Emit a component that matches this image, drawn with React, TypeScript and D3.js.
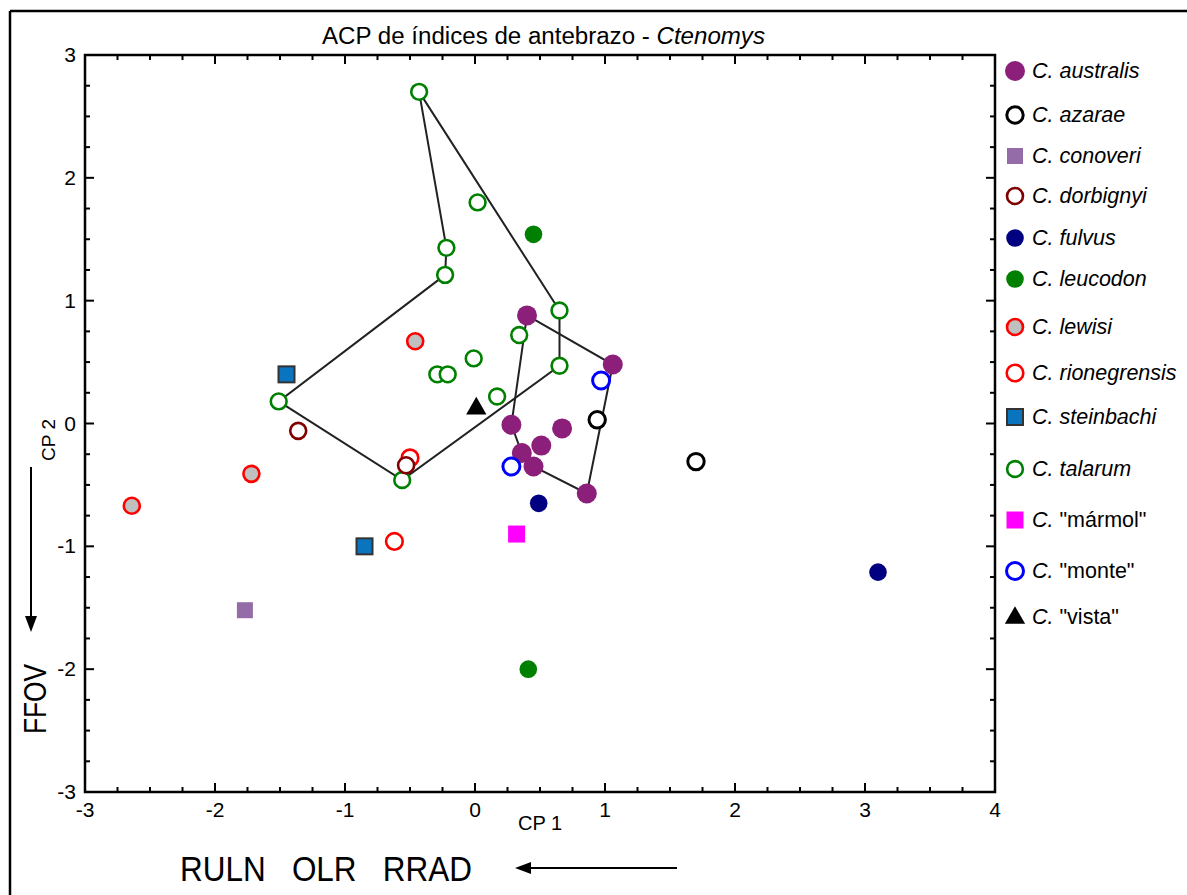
import React from "react";
import * as d3 from "d3";

type Pt = [number, number];

// Species data (CP1, CP2)
const australis: Pt[] = [[0.40, 0.88], [1.06, 0.48], [0.86, -0.57], [0.45, -0.35], [0.36, -0.24], [0.28, -0.01], [0.51, -0.18], [0.67, -0.04]];
const australisHull = [0, 1, 2, 3, 4, 5];
const azarae: Pt[] = [[0.94, 0.03], [1.70, -0.31]];
const conoveri: Pt[] = [[-1.77, -1.52]];
const dorbignyi: Pt[] = [[-1.36, -0.06], [-0.53, -0.34]];
const fulvus: Pt[] = [[0.49, -0.65], [3.10, -1.21]];
const leucodon: Pt[] = [[0.45, 1.54], [0.41, -2.0]];
const lewisi: Pt[] = [[-0.46, 0.67], [-1.72, -0.41], [-2.64, -0.67]];
const rionegrensis: Pt[] = [[-0.50, -0.28], [-0.62, -0.96]];
const steinbachi: Pt[] = [[-1.45, 0.40], [-0.85, -1.0]];
const talarum: Pt[] = [[-0.43, 2.70], [0.02, 1.80], [-0.22, 1.43], [-0.23, 1.21], [0.65, 0.92], [0.34, 0.72], [-0.01, 0.53], [-0.29, 0.40], [-0.21, 0.40], [0.17, 0.22], [0.65, 0.47], [-1.51, 0.18], [-0.56, -0.46]];
const talarumHull = [0, 2, 3, 11, 12, 10, 4];
const marmol: Pt[] = [[0.32, -0.90]];
const monte: Pt[] = [[0.97, 0.35], [0.28, -0.35]];
const vista: Pt[] = [[0.01, 0.13]];

const xTicks = [-3, -2, -1, 0, 1, 2, 3, 4];
const yTicks = [-3, -2, -1, 0, 1, 2, 3];

type Marker = { shape: "circle" | "square" | "triangle"; r: number; fill: string; stroke: string; sw: number };
type Species = { name: string; quoted: boolean; data: Pt[]; m: Marker; ly: number };

const species: Species[] = [
  { name: "australis", quoted: false, data: australis, m: { shape: "circle", r: 10, fill: "#8c1f79", stroke: "none", sw: 0 }, ly: 71 },
  { name: "azarae", quoted: false, data: azarae, m: { shape: "circle", r: 8.2, fill: "#ffffff", stroke: "#000000", sw: 3 }, ly: 115 },
  { name: "conoveri", quoted: false, data: conoveri, m: { shape: "square", r: 8, fill: "#936ca8", stroke: "none", sw: 0 }, ly: 156 },
  { name: "dorbignyi", quoted: false, data: dorbignyi, m: { shape: "circle", r: 8, fill: "#ffffff", stroke: "#800000", sw: 2.6 }, ly: 196 },
  { name: "fulvus", quoted: false, data: fulvus, m: { shape: "circle", r: 8.8, fill: "#000080", stroke: "none", sw: 0 }, ly: 238 },
  { name: "leucodon", quoted: false, data: leucodon, m: { shape: "circle", r: 8.8, fill: "#008000", stroke: "none", sw: 0 }, ly: 279 },
  { name: "lewisi", quoted: false, data: lewisi, m: { shape: "circle", r: 8, fill: "#c0c0c0", stroke: "#ff0000", sw: 2.6 }, ly: 327 },
  { name: "rionegrensis", quoted: false, data: rionegrensis, m: { shape: "circle", r: 8.3, fill: "#ffffff", stroke: "#ff0000", sw: 2.6 }, ly: 373 },
  { name: "steinbachi", quoted: false, data: steinbachi, m: { shape: "square", r: 8, fill: "#0a74bf", stroke: "#333333", sw: 2 }, ly: 417 },
  { name: "talarum", quoted: false, data: talarum, m: { shape: "circle", r: 7.9, fill: "#ffffff", stroke: "#008000", sw: 2.6 }, ly: 469 },
  { name: "\"mármol\"", quoted: true, data: marmol, m: { shape: "square", r: 8.5, fill: "#ff00ff", stroke: "none", sw: 0 }, ly: 520 },
  { name: "\"monte\"", quoted: true, data: monte, m: { shape: "circle", r: 8.5, fill: "#ffffff", stroke: "#0000ff", sw: 3 }, ly: 571 },
  { name: "\"vista\"", quoted: true, data: vista, m: { shape: "triangle", r: 9, fill: "#000000", stroke: "none", sw: 0 }, ly: 617 },
];

// drawing order of the point layers
const drawOrder = ["talarum", "australis", "leucodon", "lewisi", "rionegrensis", "dorbignyi", "azarae", "conoveri", "fulvus", "steinbachi", "\"mármol\"", "\"monte\"", "\"vista\""];

const FONT = "'Liberation Sans', Arial, sans-serif";

function MarkerShape({ m, cx, cy }: { m: Marker; cx: number; cy: number }) {
  if (m.shape === "circle") {
    return <circle cx={cx} cy={cy} r={m.r} fill={m.fill} stroke={m.stroke} strokeWidth={m.sw} />;
  }
  if (m.shape === "square") {
    return <rect x={cx - m.r} y={cy - m.r} width={m.r * 2} height={m.r * 2} fill={m.fill} stroke={m.stroke} strokeWidth={m.sw} />;
  }
  const sym = d3.symbol().type(d3.symbolTriangle).size(m.r * m.r * 2.2)();
  return <path d={sym || ""} transform={`translate(${cx},${cy + 1})`} fill={m.fill} />;
}

export default function App() {
  const x = d3.scaleLinear().domain([-3, 4]).range([85, 995]);
  const y = d3.scaleLinear().domain([-3, 3]).range([792, 55]);
  const [x0, x1] = x.range();
  const [y0, y1] = [y(3), y(-3)];

  const xMinor = d3.range(-3, 4.001, 0.25).filter((v) => Math.abs(v - Math.round(v)) > 1e-6);
  const yMinor = d3.range(-3, 3.001, 0.25).filter((v) => Math.abs(v - Math.round(v)) > 1e-6);
  const maj = 9;
  const min = 5;

  const line = d3.line<Pt>().x((d) => x(d[0])).y((d) => y(d[1])).curve(d3.curveLinearClosed);
  const talHull = talarumHull.map((i) => talarum[i]);
  const ausHull = australisHull.map((i) => australis[i]);

  const ordered = drawOrder.map((n) => species.find((s) => s.name === n)!) as Species[];

  return (
    <svg width={1187} height={895} style={{ position: "absolute", left: 0, top: 0, background: "#fff" }} fontFamily={FONT}>
      <rect x={0} y={0} width={1187} height={895} fill="#fff" />
      {/* outer frame */}
      <line x1={10} y1={11} x2={1187} y2={11} stroke="#000" strokeWidth={2.5} />
      <line x1={10} y1={11} x2={10} y2={895} stroke="#000" strokeWidth={2.5} />

      {/* title */}
      <text x={322} y={44} fontSize={23} fill="#000" textLength={443} lengthAdjust="spacingAndGlyphs">
        ACP de índices de antebrazo - <tspan fontStyle="italic">Ctenomys</tspan>
      </text>

      {/* hulls */}
      <path d={line(talHull) || ""} fill="none" stroke="#222" strokeWidth={2} />
      <path d={line(ausHull) || ""} fill="none" stroke="#222" strokeWidth={2} />

      {/* points */}
      {ordered.map((s) => (
        <g key={s.name}>
          {s.data.map((d, i) => (
            <MarkerShape key={i} m={s.m} cx={x(d[0])} cy={y(d[1])} />
          ))}
        </g>
      ))}

      {/* plot frame */}
      <rect x={x0} y={y0} width={x1 - x0} height={y1 - y0} fill="none" stroke="#000" strokeWidth={2.5} />
      {/* ticks */}
      <g stroke="#000" strokeWidth={2}>
        {xTicks.map((v) => (
          <g key={"xt" + v}>
            <line x1={x(v)} x2={x(v)} y1={y1} y2={y1 - maj} />
            <line x1={x(v)} x2={x(v)} y1={y0} y2={y0 + maj} />
          </g>
        ))}
        {xMinor.map((v) => (
          <g key={"xm" + v}>
            <line x1={x(v)} x2={x(v)} y1={y1} y2={y1 - min} />
            <line x1={x(v)} x2={x(v)} y1={y0} y2={y0 + min} />
          </g>
        ))}
        {yTicks.map((v) => (
          <g key={"yt" + v}>
            <line x1={x0} x2={x0 + maj} y1={y(v)} y2={y(v)} />
            <line x1={x1} x2={x1 - maj} y1={y(v)} y2={y(v)} />
          </g>
        ))}
        {yMinor.map((v) => (
          <g key={"ym" + v}>
            <line x1={x0} x2={x0 + min} y1={y(v)} y2={y(v)} />
            <line x1={x1} x2={x1 - min} y1={y(v)} y2={y(v)} />
          </g>
        ))}
      </g>

      {/* tick labels */}
      {xTicks.map((v) => (
        <text key={"xl" + v} x={x(v)} y={y1 + 25} textAnchor="middle" fontSize={21}>
          {v}
        </text>
      ))}
      {yTicks.map((v) => (
        <text key={"yl" + v} x={x0 - 9} y={y(v) + 7} textAnchor="end" fontSize={21}>
          {v}
        </text>
      ))}

      {/* axis titles */}
      <text x={(x0 + x1) / 2} y={y1 + 38} textAnchor="middle" fontSize={20}>
        CP 1
      </text>
      <text transform={`translate(55,440) rotate(-90)`} textAnchor="middle" fontSize={19}>
        CP 2
      </text>

      {/* FFOV arrow */}
      <line x1={31} y1={467} x2={31} y2={618} stroke="#000" strokeWidth={2} />
      <path d="M25,616 L37,616 L31,632 Z" fill="#000" />
      <text transform={`translate(46,699) rotate(-90)`} textAnchor="middle" fontSize={32} textLength={70} lengthAdjust="spacingAndGlyphs">
        FFOV
      </text>

      {/* bottom arrow */}
      <text x={180} y={881} fontSize={35} textLength={292} lengthAdjust="spacingAndGlyphs">
        RULN{"\u00a0\u00a0\u00a0"}OLR{"\u00a0\u00a0\u00a0"}RRAD
      </text>
      <line x1={677} y1={868} x2={528} y2={868} stroke="#000" strokeWidth={2} />
      <path d="M515,868 L531,862 L531,874 Z" fill="#000" />

      {/* legend */}
      {species.map((s) => (
        <g key={"lg" + s.name}>
          <MarkerShape m={s.m} cx={1015} cy={s.ly} />
          <text x={1032} y={s.ly + 7} fontSize={21.5}>
            <tspan fontStyle="italic">C.</tspan>
            <tspan fontStyle={s.quoted ? "normal" : "italic"}>{" " + s.name}</tspan>
          </text>
        </g>
      ))}
    </svg>
  );
}
